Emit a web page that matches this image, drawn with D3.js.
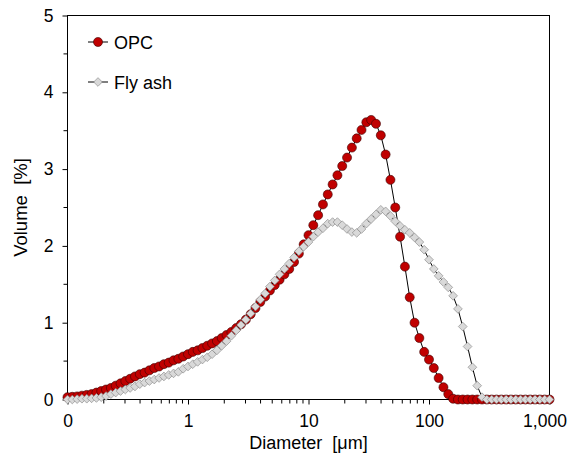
<!DOCTYPE html>
<html>
<head>
<meta charset="utf-8">
<script src="https://cdn.jsdelivr.net/npm/d3@7"></script>
<style>
	body { margin: 0; background: #fff; }
	svg { display: block; font-family: Arial, "Liberation Sans", sans-serif; }
	text { white-space: pre; }
</style>
</head>
<body>
<svg id="psd-graph" width="570" height="457"></svg>
<script>
// particle size classes [um], 25 per decade
const sizes = [
	0.1, 0.1096, 0.1202, 0.1318, 0.1445, 0.1585, 0.1738, 0.1905, 0.2089, 0.2291, 0.2512, 0.2754, 0.302, 0.3311, 0.3631, 0.3981, 0.4365, 0.4786, 0.5248, 0.5754, 0.631, 0.6918, 0.7586, 0.8318, 0.912,
	1, 1.096, 1.202, 1.318, 1.445, 1.585, 1.738, 1.905, 2.089, 2.291, 2.512, 2.754, 3.02, 3.311, 3.631, 3.981, 4.365, 4.786, 5.248, 5.754, 6.31, 6.918, 7.586, 8.318, 9.12,
	10, 10.96, 12.02, 13.18, 14.45, 15.85, 17.38, 19.05, 20.89, 22.91, 25.12, 27.54, 30.2, 33.11, 36.31, 39.81, 43.65, 47.86, 52.48, 57.54, 63.1, 69.18, 75.86, 83.18, 91.2,
	100, 109.6, 120.2, 131.8, 144.5, 158.5, 173.8, 190.5, 208.9, 229.1, 251.2, 275.4, 302, 331.1, 363.1, 398.1, 436.5, 478.6, 524.8, 575.4, 631, 691.8, 758.6, 831.8, 912,
	1000
];

// volume [%]
const opc = [
	0.03, 0.035, 0.04, 0.05, 0.06, 0.07, 0.09, 0.11, 0.13, 0.15, 0.18, 0.21, 0.24, 0.27, 0.30, 0.33, 0.35, 0.38, 0.41, 0.43, 0.46, 0.48, 0.51, 0.53, 0.56,
	0.59, 0.62, 0.64, 0.67, 0.70, 0.73, 0.76, 0.80, 0.84, 0.88, 0.93, 0.98, 1.04, 1.11, 1.19, 1.27, 1.34, 1.42, 1.49, 1.56, 1.63, 1.70, 1.79, 1.90, 2.02,
	2.14, 2.27, 2.40, 2.54, 2.67, 2.80, 2.92, 3.04, 3.15, 3.28, 3.40, 3.51, 3.61, 3.64, 3.59, 3.44, 3.19, 2.86, 2.50, 2.12, 1.73, 1.33, 1.00, 0.80, 0.62,
	0.52, 0.41, 0.28, 0.16, 0.07, 0.01, 0, 0, 0, 0, 0, 0, 0, 0, 0, 0, 0, 0, 0, 0, 0, 0, 0, 0, 0,
	0
];
const flyAsh = [
	0, 0, 0.005, 0.01, 0.01, 0.015, 0.02, 0.03, 0.045, 0.07, 0.09, 0.11, 0.13, 0.15, 0.17, 0.20, 0.22, 0.24, 0.26, 0.28, 0.30, 0.32, 0.34, 0.36, 0.40,
	0.43, 0.46, 0.49, 0.52, 0.55, 0.59, 0.64, 0.70, 0.76, 0.83, 0.90, 0.97, 1.04, 1.12, 1.21, 1.30, 1.38, 1.47, 1.55, 1.63, 1.70, 1.77, 1.85, 1.93, 1.99,
	2.05, 2.12, 2.18, 2.23, 2.29, 2.31, 2.31, 2.27, 2.22, 2.18, 2.17, 2.22, 2.29, 2.35, 2.41, 2.47, 2.45, 2.39, 2.32, 2.26, 2.21, 2.17, 2.11, 2.05, 1.95,
	1.82, 1.70, 1.61, 1.53, 1.46, 1.35, 1.18, 0.95, 0.69, 0.42, 0.18, 0.03, 0, 0, 0, 0, 0, 0, 0, 0, 0, 0, 0, 0, 0,
	0
];

const xTickValues = [0.1, 1, 10, 100, 1000];
const xTickLabels = ['0', '1', '10', '100', '1,000'];
const yTickValues = [0, 1, 2, 3, 4, 5];

const //
	svg = d3.select('#psd-graph'),
	plotLeft = 67.5,
	plotRight = 549.5,
	plotTop = 15.5,
	plotBottom = 399.5,
	fontSize = 18,
	tickFontSize = 17.5;

const x = d3.scaleLog().domain([0.1, 1000]).range([plotLeft, plotRight]);
const y = d3.scaleLinear().domain([0, 5]).range([plotBottom, plotTop]);

//minor x ticks 2..9 in every decade
const xMinor = [];
for (let e = -1; e < 3; e++) {
	for (let m = 2; m < 10; m++) xMinor.push(m * Math.pow(10, e));
}
const yMinor = d3.range(0.5, 5, 1);

//frame
svg.append('rect')
	.attr('x', plotLeft).attr('y', plotTop)
	.attr('width', plotRight - plotLeft).attr('height', plotBottom - plotTop)
	.attr('fill', 'none').attr('stroke', '#000').attr('stroke-width', 1);

//x axis
const xAxis = svg.append('g')
	.attr('transform', `translate(0,${plotBottom})`)
	.call(d3.axisBottom(x).tickValues(xTickValues).tickSize(5).tickPadding(10)
		.tickFormat((d, i) => xTickLabels[i]));
xAxis.selectAll('line.minor')
	.data(xMinor).enter().append('line')
	.attr('x1', d => x(d)).attr('x2', d => x(d))
	.attr('y1', 0).attr('y2', 4)
	.attr('stroke', '#000');

//y axis
const yAxis = svg.append('g')
	.attr('transform', `translate(${plotLeft},0)`)
	.call(d3.axisLeft(y).tickValues(yTickValues).tickSize(5).tickPadding(9).tickFormat(d3.format('d')));
yAxis.selectAll('line.minor')
	.data(yMinor).enter().append('line')
	.attr('x1', 0).attr('x2', -4)
	.attr('y1', d => y(d)).attr('y2', d => y(d))
	.attr('stroke', '#000');

[xAxis, yAxis].forEach(ax => {
	ax.select('.domain').remove();
	ax.selectAll('text').attr('font-size', tickFontSize).attr('font-family', 'Arial, "Liberation Sans", sans-serif').attr('fill', '#000');
});
//last label sits a little left so it stays inside the page
xAxis.selectAll('.tick text').filter(d => d === 1000).attr('dx', -5);

//axis titles
svg.append('text')
	.attr('x', (plotLeft + plotRight) / 2).attr('y', 449)
	.attr('text-anchor', 'middle').attr('font-size', fontSize)
	.text('Diameter  [μm]');
svg.append('text')
	.attr('transform', `translate(27,${(plotTop + plotBottom) / 2}) rotate(-90)`)
	.attr('text-anchor', 'middle').attr('font-size', fontSize + 0.5)
	.text('Volume  [%]');

//diamond = square turned 45 degrees
const squareDiamond = {
	draw(context, size) {
		const r = Math.sqrt(size / 2);
		context.moveTo(0, -r);
		context.lineTo(r, 0);
		context.lineTo(0, r);
		context.lineTo(-r, 0);
		context.closePath();
	}
};

//series
const series = [
	{name: 'OPC', values: opc, shape: d3.symbolCircle, size: 64, fill: '#c00000', stroke: '#3a0000'},
	{name: 'Fly ash', values: flyAsh, shape: squareDiamond, size: 38, fill: '#d9d9d9', stroke: '#7f7f7f'}
];

const line = d3.line().x(d => x(d[0])).y(d => y(d[1]));

series.forEach(s => {
	const pts = sizes.map((d, i) => [d, s.values[i]]);
	svg.append('path')
		.attr('d', line(pts))
		.attr('fill', 'none').attr('stroke', '#000').attr('stroke-width', 1);
	svg.append('g')
		.selectAll('path')
		.data(pts)
		.enter()
		.append('path')
		.attr('transform', d => `translate(${x(d[0])},${y(d[1])})`)
		.attr('d', d3.symbol().type(s.shape).size(s.size))
		.attr('fill', s.fill)
		.attr('stroke', s.stroke)
		.attr('stroke-width', 0.6);
});

//legend
series.forEach((s, i) => {
	const ly = 42 + i * 40;
	const g = svg.append('g').attr('transform', `translate(88,${ly})`);
	g.append('line').attr('x1', 0).attr('x2', 20).attr('y1', 0).attr('y2', 0).attr('stroke', '#000');
	g.append('path')
		.attr('transform', 'translate(10,0)')
		.attr('d', d3.symbol().type(s.shape).size(s.size))
		.attr('fill', s.fill).attr('stroke', s.stroke).attr('stroke-width', 0.6);
	g.append('text').attr('x', 26).attr('y', 6.5).attr('font-size', fontSize).text(s.name);
});
</script>
</body>
</html>
